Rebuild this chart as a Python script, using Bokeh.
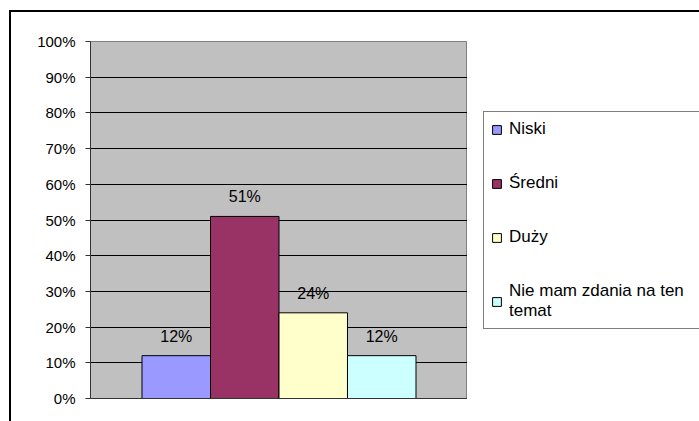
from bokeh.plotting import figure
from bokeh.layouts import row
from bokeh.models import (ColumnDataSource, FactorRange, Range1d, LabelSet, Legend,
                          LegendItem, PrintfTickFormatter, FixedTicker, InlineStyleSheet)
from bokeh.core.properties import value
from bokeh.embed import file_html
from bokeh.resources import INLINE

# ---- data ----
categories = ["Niski", "Średni", "Duży", "Nie mam zdania na ten temat"]
legend_labels = ["Niski", "Średni", "Duży", "Nie mam zdania na ten\ntemat"]
values = [12, 51, 24, 12]
value_labels = ["12%", "51%", "24%", "12%"]
colors = ["#9999FF", "#993366", "#FFFFCC", "#CCFFFF"]
y_ticks = [0, 10, 20, 30, 40, 50, 60, 70, 80, 90, 100]

FONT = "Liberation Sans"

src = ColumnDataSource(dict(cat=categories, val=values, lab=value_labels, color=colors))

# outer chart-area border (left and top edges; the rest lies outside the window)
frame_css = InlineStyleSheet(css="""
:host { position: relative; }
:host::after {
  content: "";
  position: absolute;
  left: 9px; top: 10px;
  width: calc(100% - 9px); height: calc(100% - 10px);
  border-left: 2px solid #000; border-top: 2px solid #000;
  box-sizing: border-box;
  pointer-events: none;
}
""")

# ---- main chart ----
p = figure(width=467, height=421,
           x_range=FactorRange(*categories, range_padding=0.376),
           y_range=Range1d(0, 100),
           output_backend="svg", toolbar_location=None,
           min_border_left=90, min_border_right=0,
           min_border_top=41, min_border_bottom=23,
           background_fill_color="#C0C0C0", border_fill_color="white",
           outline_line_color="#808080", outline_line_width=1)

r = p.vbar(x="cat", top="val", width=1.0, source=src,
           fill_color="color", line_color="black", line_width=1)

p.xgrid.visible = False
p.ygrid.ticker = FixedTicker(ticks=y_ticks)
p.ygrid.grid_line_color = "black"
p.ygrid.grid_line_width = 1

p.yaxis.ticker = FixedTicker(ticks=y_ticks)
p.yaxis.formatter = PrintfTickFormatter(format="%d%%")
p.yaxis.minor_tick_line_color = None
p.yaxis.major_tick_in = 0
p.yaxis.major_tick_out = 5
p.yaxis.major_tick_line_color = "#333333"
p.yaxis.axis_line_color = "#333333"
p.yaxis.major_label_text_font = FONT
p.yaxis.major_label_text_font_size = "15px"
p.yaxis.major_label_text_color = "black"
p.yaxis.major_label_standoff = 10

p.xaxis.axis_line_color = "#333333"
p.xaxis.major_tick_line_color = None
p.xaxis.minor_tick_line_color = None
p.xaxis.major_label_text_color = None
p.xaxis.major_label_text_font_size = "1px"
p.xaxis.major_label_standoff = 0

labels = LabelSet(x="cat", y="val", text="lab", source=src,
                  text_align="center", text_baseline="alphabetic",
                  y_offset=14, text_font=value(FONT), text_font_size=value("16px"),
                  text_color="black")
p.add_layout(labels)

# ---- legend panel (separate canvas to the right of the plot area) ----
# its ranges hold no data, so the proxy bars are never drawn; only the legend shows
lp = figure(width=232, height=421,
            x_range=FactorRange("legend"), y_range=Range1d(-2000, -1000),
            output_backend="svg", toolbar_location=None,
            x_axis_location=None, y_axis_location=None,
            min_border_left=0, min_border_right=0,
            min_border_top=0, min_border_bottom=0,
            outline_line_color=None,
            background_fill_color="white", border_fill_color="white")
lp.grid.visible = False
lr = lp.vbar(x="cat", top="val", width=1.0, source=src,
             fill_color="color", line_color="black", line_width=1)

items = [LegendItem(label=legend_labels[i], renderers=[lr], index=i)
         for i in range(len(categories))]
legend = Legend(items=items, location=(16, 69),
                border_line_color="black", border_line_width=1,
                background_fill_color="white", background_fill_alpha=1,
                padding=7, spacing=34, margin=0,
                glyph_width=11, glyph_height=11,
                label_height=20, label_standoff=7, label_width=260,
                label_text_font=FONT, label_text_font_size="17px",
                label_text_color="black")
lp.add_layout(legend)

layout = row(p, lp, spacing=0, stylesheets=[frame_css])

open("out.html", "w").write(file_html(layout, INLINE))
